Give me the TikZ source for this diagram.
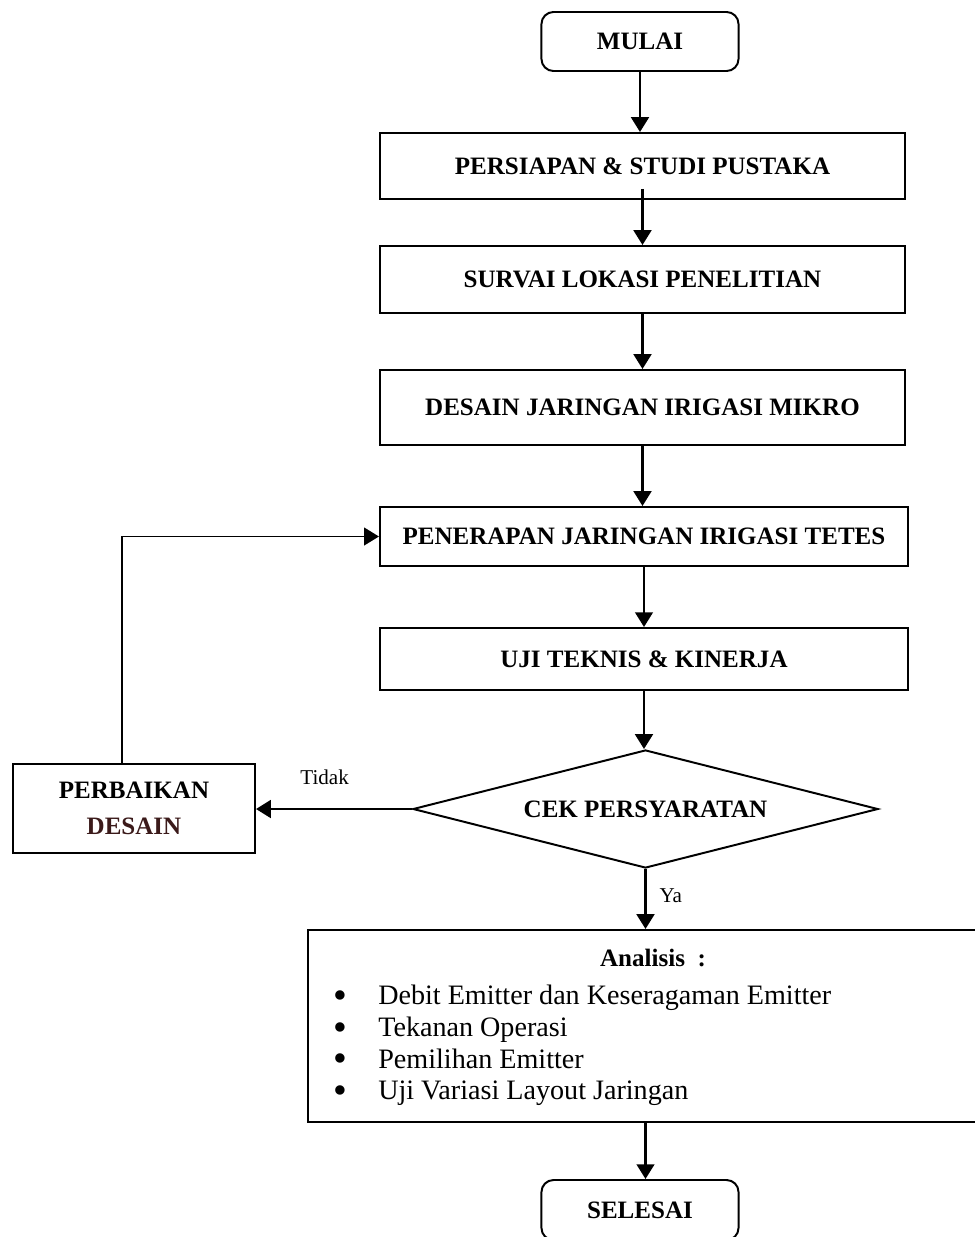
\documentclass[tikz,border=0pt]{standalone}
\usepackage{fontspec}
\setmainfont{Liberation Serif}
\usetikzlibrary{positioning, arrows.meta, shapes.geometric}
\definecolor{desainBrown}{HTML}{3B1A1A}
\tikzstyle{roundBox} = [
    rectangle,
    draw,
    line width=1.4pt,
    rounded corners=0.3cm,
    minimum width=4.925cm,
    minimum height=1.475cm,
    font=\bfseries\fontsize{17.8}{21}\selectfont
    ]
\tikzstyle{processBox} = [
    rectangle,
    draw,
    line width=1.4pt,
    minimum width=13.125cm,
    minimum height=1.65cm,
    align=center,
    font=\bfseries\fontsize{17.8}{26}\selectfont
    ]
\tikzstyle{checkDiamond} = [
    diamond,
    draw,
    line width=1.4pt,
    inner sep=0pt,
    aspect=3.94,
    minimum width=11.625cm,
    minimum height=2.95cm,
    font=\bfseries\fontsize{17.8}{21}\selectfont
    ]
\tikzstyle{flowArrow} = [
    line width=2pt,
    -{Triangle[length=10.5pt,width=12.5pt]}
    ]
\tikzstyle{smallLabel} = [
    font=\fontsize{15}{18}\selectfont
    ]
\newcommand{\listDot}{\makebox[1.125cm][l]{\raisebox{-0.13em}[0pt][0pt]{\scalebox{1.4}{\textbullet}}}}

\begin{document}
\begin{tikzpicture}[x=0.025cm, y=-0.025cm]
      \useasboundingbox (0,0) rectangle (974,1237);
      % main column
      \node[roundBox] at (640,41.5) (mulai) {MULAI};
      \node[processBox] at (642.5,166) (persiapan) {PERSIAPAN \& STUDI PUSTAKA};
      \node[processBox, minimum height=1.675cm] at (642.5,279.5) (survai) {SURVAI LOKASI PENELITIAN};
      \node[processBox, minimum height=1.875cm] at (642.5,407.5) (desain) {DESAIN JARINGAN IRIGASI MIKRO};
      \node[processBox, minimum width=13.2cm, minimum height=1.475cm] at (644,536.5) (penerapan) {PENERAPAN JARINGAN IRIGASI TETES};
      \node[processBox, minimum width=13.2cm, minimum height=1.55cm] at (644,659) (uji) {UJI TEKNIS \& KINERJA};
      \node[checkDiamond] at (645.5,809) (cek) {CEK PERSYARATAN};
      \node[processBox, minimum width=6.05cm, minimum height=2.225cm] at (134,808.5) (perbaikan) {PERBAIKAN\\\textcolor{desainBrown}{DESAIN}};
      \node[processBox, minimum width=16.75cm, minimum height=4.8cm] at (643,1026) (analisis) {};
      \node[font=\bfseries\fontsize{17.8}{21}\selectfont] at (653,958) (judul) {Analisis~~:};
      \node[anchor=west, inner sep=0pt, align=left, font=\fontsize{20}{22.5}\selectfont] at (333,1045.5) (daftar) {%
        \listDot Debit Emitter dan Keseragaman Emitter\\
        \listDot Tekanan Operasi\\
        \listDot Pemilihan Emitter\\
        \listDot Uji Variasi Layout Jaringan};
      \node[roundBox, minimum height=1.5cm] at (640,1210) (selesai) {SELESAI};

      % connectors
      \draw[flowArrow] (mulai.south) -- (mulai.south |- persiapan.north);
      \draw[flowArrow] ([yshift=0.275cm]persiapan.south) -- (persiapan.south |- survai.north);
      \draw[flowArrow] (survai.south) -- (survai.south |- desain.north);
      \draw[flowArrow] (desain.south) -- (desain.south |- penerapan.north);
      \draw[flowArrow] (penerapan.south) -- (penerapan.south |- uji.north);
      \draw[flowArrow] (uji.south) -- (uji.south |- cek.north);
      \draw[flowArrow] (cek.west) -- (cek.west -| perbaikan.east)
          node[smallLabel, pos=0.56, above=0.45cm] (tidak) {Tidak};
      \draw[flowArrow] (cek.south) -- (cek.south |- analisis.north)
          node[smallLabel, pos=0.45, right=0.2cm] (ya) {Ya};
      \draw[flowArrow] (cek.south |- analisis.south) -- (cek.south |- selesai.north);
      \draw[line width=1.4pt, -{Triangle[length=10.5pt,width=12.5pt]}] ([xshift=-0.3cm]perbaikan.north) |- (penerapan.west);
    \end{tikzpicture}
\end{document}
